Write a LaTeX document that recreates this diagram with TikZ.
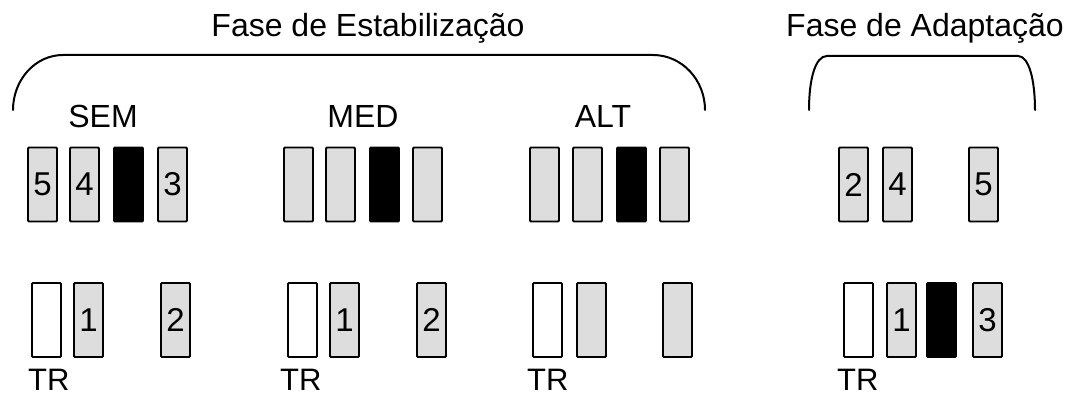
\documentclass[tikz,border=0pt]{standalone}
\usepackage{fontspec}
\setmainfont{Liberation Sans}
\begin{document}
\begin{tikzpicture}[x=1pt,y=-1pt,
  bx/.style={draw=black,line width=1.8pt,rounded corners=1pt,minimum width=29pt,minimum height=74pt,inner sep=0pt,font=\fontsize{33}{38}\selectfont},
  gbox/.style={bx,fill=boxgray},
  wbox/.style={bx,fill=white},
  kbox/.style={bx,fill=black},
  lbl/.style={inner sep=0pt,font=\fontsize{32}{38}\selectfont,anchor=base},
  trl/.style={inner sep=0pt,font=\fontsize{31}{36}\selectfont,anchor=base west},
  brk/.style={line width=2pt,line cap=round}]
\definecolor{boxgray}{HTML}{DDDDDD}
\useasboundingbox (0,0) rectangle (1069,396);
% titles
\node[lbl] (t1) at (368,37) {Fase de Estabilização};
\node[lbl] (t2) at (925,37) {Fase de Adaptação};
% brackets
\draw[brk] (13,110) .. controls (13,80) and (35,55) .. (63,55) -- (653,55) .. controls (682,55) and (705,80) .. (705,110);
\draw[brk] (809,110) .. controls (809,80) and (815,56) .. (827,56) -- (1018,56) .. controls (1029,56) and (1035,80) .. (1035,110);
% group labels
\node[lbl] (lsem) at (103,128) {SEM};
\node[lbl] (lmed) at (363,128) {MED};
\node[lbl] (lalt) at (603,128) {ALT};
% top row SEM
\node[gbox] (s1) at (42.5,184.5) {5};
\node[gbox] (s2) at (84.5,184.5) {4};
\node[kbox] (s3) at (128.5,184.5) {};
\node[gbox] (s4) at (172.5,184.5) {3};
% top row MED
\node[gbox] (m1) at (298.5,184.5) {};
\node[gbox] (m2) at (340.5,184.5) {};
\node[kbox] (m3) at (384.5,184.5) {};
\node[gbox] (m4) at (427.5,184.5) {};
% top row ALT
\node[gbox] (a1) at (544.5,184.5) {};
\node[gbox] (a2) at (587.5,184.5) {};
\node[kbox] (a3) at (631.5,184.5) {};
\node[gbox] (a4) at (674.5,184.5) {};
% top row adaptation
\node[gbox] (d1) at (853.5,184.5) {2};
\node[gbox] (d2) at (897.5,184.5) {4};
\node[gbox] (d3) at (983.5,184.5) {5};
% bottom row SEM
\node[wbox] (sb1) at (46.5,320) {};
\node[gbox] (sb2) at (88.5,320) {1};
\node[gbox] (sb3) at (175.5,320) {2};
% bottom row MED
\node[wbox] (mb1) at (302.5,320) {};
\node[gbox] (mb2) at (344.5,320) {1};
\node[gbox] (mb3) at (431.5,320) {2};
% bottom row ALT
\node[wbox] (ab1) at (547.5,320) {};
\node[gbox] (ab2) at (591.5,320) {};
\node[gbox] (ab3) at (677.5,320) {};
% bottom row adaptation
\node[wbox] (db1) at (858.5,320) {};
\node[gbox] (db2) at (901.5,320) {1};
\node[kbox] (db3) at (941.5,320) {};
\node[gbox] (db4) at (987.5,320) {3};
% TR labels
\node[trl] (tr1) at (28,390) {TR};
\node[trl] (tr2) at (280,390) {TR};
\node[trl] (tr3) at (527,390) {TR};
\node[trl] (tr4) at (837,390) {TR};
\end{tikzpicture}
\end{document}
